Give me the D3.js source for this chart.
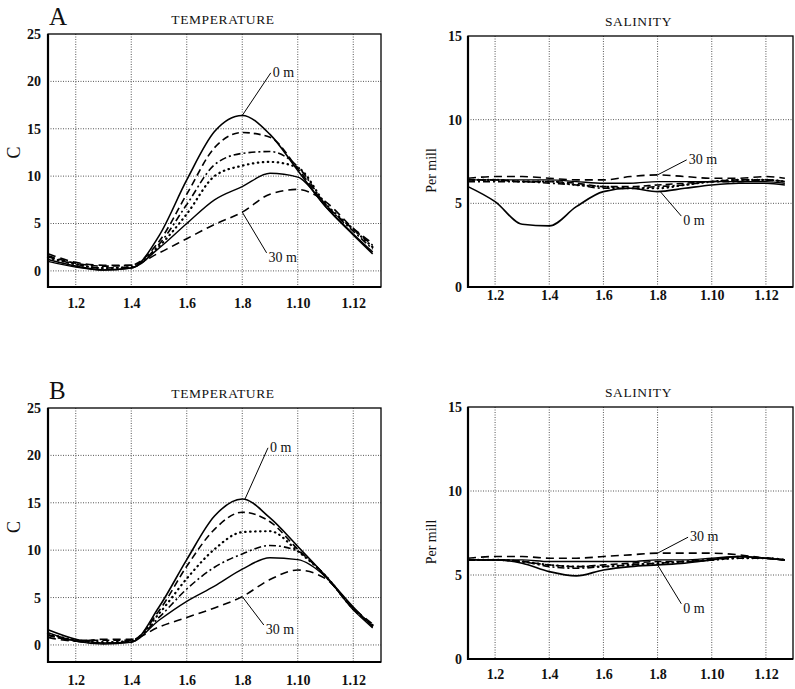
<!DOCTYPE html>
<html>
<head>
<meta charset="utf-8">
<script src="https://cdn.jsdelivr.net/npm/d3@7"></script>
<style>
  html, body { margin: 0; padding: 0; background: #fff; }
  svg { display: block; }
  text { font-family: 'Liberation Serif', 'DejaVu Serif', serif; fill: #111; }
</style>
</head>
<body>
<div id="chart"></div>
<script>
// 관측 정점 (1.1 ... 1.12) — x 값은 정점 번호
var stations = [1, 2, 3, 4, 5, 6, 7, 8, 9, 10, 11, 12, 12.7];
var xTicks = [2, 4, 6, 8, 10, 12];
var tempTicks = [0, 5, 10, 15, 20, 25];
var salTicks = [0, 5, 10, 15];

// A — 수온 (0 m ... 30 m)
var tempA_0m  = [1.2, 0.5, 0.1, 0.3, 3.7, 9.6, 14.7, 16.4, 14.4, 10.6, 6.8, 3.8, 1.8];
var tempA_d2  = [1.6, 0.8, 0.5, 0.6, 3.1, 8.1, 13.0, 14.6, 14.1, 10.8, 7.0, 4.4, 2.7];
var tempA_d3  = [1.5, 0.7, 0.3, 0.4, 2.8, 7.0, 11.2, 12.4, 12.6, 11.0, 7.0, 4.2, 2.3];
var tempA_d4  = [1.4, 0.7, 0.3, 0.4, 2.6, 6.0, 10.0, 11.1, 11.5, 10.9, 7.1, 4.4, 2.5];
var tempA_d5  = [1.0, 0.4, 0.1, 0.3, 2.4, 5.0, 7.5, 8.9, 10.3, 9.9, 6.8, 3.9, 2.0];
var tempA_30m = [1.8, 0.9, 0.6, 0.6, 1.9, 3.4, 4.9, 6.2, 8.1, 8.6, 7.3, 4.5, 2.9];

// A — 염분
var salA_0m  = [6.0, 5.1, 3.75, 3.65, 4.8, 5.7, 5.9, 5.7, 5.9, 6.1, 6.2, 6.2, 6.1];
var salA_d2  = [6.4, 6.4, 6.3, 6.3, 6.2, 6.0, 6.0, 6.1, 6.2, 6.3, 6.4, 6.4, 6.3];
var salA_d3  = [6.3, 6.3, 6.3, 6.2, 6.1, 5.9, 5.9, 6.0, 6.1, 6.3, 6.3, 6.4, 6.3];
var salA_d4  = [6.4, 6.4, 6.3, 6.3, 6.1, 6.0, 5.9, 5.9, 6.1, 6.3, 6.4, 6.4, 6.3];
var salA_d5  = [6.4, 6.4, 6.4, 6.4, 6.3, 6.2, 6.2, 6.3, 6.3, 6.3, 6.3, 6.3, 6.2];
var salA_30m = [6.5, 6.6, 6.6, 6.5, 6.4, 6.4, 6.6, 6.7, 6.6, 6.5, 6.5, 6.6, 6.5];

// B — 수온
var tempB_0m  = [1.6, 0.6, 0.2, 0.3, 4.0, 9.0, 13.6, 15.4, 13.4, 10.4, 7.3, 4.0, 1.9];
var tempB_d2  = [1.1, 0.5, 0.5, 0.5, 3.6, 8.3, 12.2, 14.0, 13.0, 10.1, 7.3, 3.8, 2.0];
var tempB_d3  = [1.0, 0.4, 0.2, 0.4, 2.9, 5.9, 8.2, 9.6, 10.5, 9.9, 7.2, 3.9, 2.0];
var tempB_d4  = [1.2, 0.5, 0.3, 0.4, 3.3, 7.0, 10.1, 11.9, 12.0, 9.9, 7.3, 3.8, 2.1];
var tempB_d5  = [1.3, 0.4, 0.1, 0.3, 2.6, 4.6, 6.2, 8.0, 9.2, 9.0, 7.2, 3.7, 1.8];
var tempB_30m = [0.8, 0.4, 0.6, 0.6, 1.9, 2.9, 3.9, 5.1, 6.9, 7.9, 7.0, 3.9, 2.2];

// B — 염분
var salB_0m  = [5.9, 5.9, 5.7, 5.2, 4.95, 5.3, 5.5, 5.6, 5.7, 5.9, 6.1, 6.0, 5.9];
var salB_d2  = [5.9, 5.9, 5.8, 5.6, 5.5, 5.6, 5.7, 5.8, 5.8, 5.9, 6.1, 6.0, 5.9];
var salB_d3  = [5.9, 5.9, 5.8, 5.5, 5.4, 5.5, 5.6, 5.7, 5.8, 5.9, 6.0, 6.0, 5.9];
var salB_d4  = [5.9, 5.9, 5.8, 5.6, 5.5, 5.5, 5.6, 5.7, 5.8, 5.9, 6.0, 6.0, 5.9];
var salB_d5  = [5.9, 5.9, 5.9, 5.8, 5.8, 5.8, 5.8, 5.9, 5.9, 6.0, 6.1, 6.0, 5.9];
var salB_30m = [6.0, 6.1, 6.1, 6.0, 6.0, 6.1, 6.2, 6.3, 6.3, 6.3, 6.2, 6.0, 5.9];

// 깊이별 선 스타일 (0 m → 30 m 순서)
var lineStyles = [
  { dash: null,        width: 1.6, cap: 'butt' },
  { dash: '7,4',       width: 1.6, cap: 'butt' },
  { dash: '7,3,2,3',   width: 1.6, cap: 'butt' },
  { dash: '0.5,4.5',   width: 2.2, cap: 'round' },
  { dash: null,        width: 1.4, cap: 'butt' },
  { dash: '8,5',       width: 1.6, cap: 'butt' }
];

// 패널 배치 (xPad = x 눈금 라벨 간격)
var panels = [
  { title: 'TEMPERATURE', ylabel: 'C', letter: 'A', x0: 48, x1: 381, y0: 34, y1: 287, ymin: -1.7, ymax: 25, xPad: 11,
    ticks: tempTicks, series: [tempA_0m, tempA_d2, tempA_d3, tempA_d4, tempA_d5, tempA_30m],
    notes: [{ text: '0 m', x: 8, v: 16.4, lx: 9.1, lv: 20.9 }, { text: '30 m', x: 8, v: 6.2, lx: 8.95, lv: 0.95 }] },
  { title: 'SALINITY', ylabel: 'Per mill', x0: 468, x1: 793, y0: 36, y1: 287, ymin: 0, ymax: 15, xPad: 3,
    ticks: salTicks, series: [salA_0m, salA_d2, salA_d3, salA_d4, salA_d5, salA_30m],
    notes: [{ text: '30 m', x: 8, v: 6.7, lx: 9.15, lv: 7.6 }, { text: '0 m', x: 8.1, v: 5.7, lx: 8.95, lv: 3.7 }] },
  { title: 'TEMPERATURE', ylabel: 'C', letter: 'B', x0: 48, x1: 381, y0: 408, y1: 662, ymin: -1.8, ymax: 25, xPad: 13,
    ticks: tempTicks, series: [tempB_0m, tempB_d2, tempB_d3, tempB_d4, tempB_d5, tempB_30m],
    notes: [{ text: '0 m', x: 8.1, v: 15.4, lx: 9.0, lv: 20.8 }, { text: '30 m', x: 8, v: 5.1, lx: 8.85, lv: 1.15 }] },
  { title: 'SALINITY', ylabel: 'Per mill', x0: 468, x1: 793, y0: 407, y1: 659, ymin: 0, ymax: 15, xPad: 10,
    ticks: salTicks, series: [salB_0m, salB_d2, salB_d3, salB_d4, salB_d5, salB_30m],
    notes: [{ text: '30 m', x: 8, v: 6.3, lx: 9.2, lv: 7.25 }, { text: '0 m', x: 8, v: 5.6, lx: 8.95, lv: 2.75 }] }
];

var svg = d3.select('#chart').append('svg')
  .attr('width', 795)
  .attr('height', 689);

panels.forEach(function (p) {
  var isSal = p.title === 'SALINITY';
  var x = d3.scaleLinear().domain([1, 13]).range([p.x0, p.x1]);
  var y = d3.scaleLinear().domain([p.ymin, p.ymax]).range([p.y1, p.y0]);
  var g = svg.append('g');

  // 격자 (점선)
  g.append('g').selectAll('line').data(xTicks).join('line')
    .attr('x1', function (d) { return x(d); }).attr('x2', function (d) { return x(d); })
    .attr('y1', p.y0).attr('y2', p.y1)
    .attr('stroke', '#444').attr('stroke-width', 0.9).attr('stroke-dasharray', '1,1.5');
  g.append('g').selectAll('line').data(p.ticks.filter(function (t) { return t > p.ymin && t < p.ymax; })).join('line')
    .attr('x1', p.x0).attr('x2', p.x1)
    .attr('y1', function (d) { return y(d); }).attr('y2', function (d) { return y(d); })
    .attr('stroke', '#444').attr('stroke-width', 0.9).attr('stroke-dasharray', '1,1.5');

  // 곡선
  var line = d3.line()
    .x(function (d, i) { return x(stations[i]); })
    .y(function (d) { return y(d); })
    .curve(d3.curveMonotoneX);
  g.append('g').selectAll('path').data(p.series).join('path')
    .attr('d', function (d) { return line(d); })
    .attr('fill', 'none')
    .attr('stroke', '#000')
    .attr('stroke-width', function (d, i) { return lineStyles[i].width; })
    .attr('stroke-linecap', function (d, i) { return lineStyles[i].cap; })
    .attr('stroke-dasharray', function (d, i) { return lineStyles[i].dash; });

  // 테두리
  g.append('rect')
    .attr('x', p.x0).attr('y', p.y0)
    .attr('width', p.x1 - p.x0).attr('height', p.y1 - p.y0)
    .attr('fill', 'none').attr('stroke', '#000').attr('stroke-width', 1.3);
  g.append('path')
    .attr('d', 'M' + p.x0 + ',' + p.y0 + 'V' + p.y1 + 'H' + p.x1)
    .attr('fill', 'none').attr('stroke', '#000').attr('stroke-width', 2.2);

  // 축 눈금 라벨
  var xAxis = d3.axisBottom(x).tickValues(xTicks).tickSize(0).tickPadding(p.xPad)
    .tickFormat(function (d) { return '1.' + d; });
  var xa = g.append('g').attr('transform', 'translate(0,' + p.y1 + ')').call(xAxis);
  xa.select('.domain').remove();
  xa.selectAll('text').attr('font-size', 14).attr('font-weight', 'bold')
    .attr('font-family', "'Liberation Serif', serif").attr('fill', '#111');

  var yAxis = d3.axisLeft(y).tickValues(p.ticks).tickSize(0).tickPadding(isSal ? 6 : 7);
  var ya = g.append('g').attr('transform', 'translate(' + p.x0 + ',0)').call(yAxis);
  ya.select('.domain').remove();
  ya.selectAll('text').attr('font-size', 14).attr('font-weight', 'bold')
    .attr('font-family', "'Liberation Serif', serif").attr('fill', '#111');

  // 제목
  g.append('text')
    .attr('x', isSal ? (p.x0 + p.x1) / 2 + 8 : 223)
    .attr('y', p.y0 - 10)
    .attr('text-anchor', 'middle')
    .attr('font-size', 13.5)
    .attr('letter-spacing', 0.6)
    .text(p.title);

  if (p.letter) {
    g.append('text')
      .attr('x', 49).attr('y', p.y0 - 9)
      .attr('font-size', 25)
      .text(p.letter);
  }

  // 세로 축 제목
  var ylx = isSal ? p.x0 - 32 : 20;
  var yly = isSal ? (p.y0 + p.y1) / 2 + 9 : (p.y0 + p.y1) / 2 - 8;
  g.append('text')
    .attr('transform', 'translate(' + ylx + ',' + yly + ') rotate(-90)')
    .attr('text-anchor', 'middle')
    .attr('font-size', isSal ? 14 : 18)
    .text(p.ylabel);

  // 0 m / 30 m 지시선
  p.notes.forEach(function (n) {
    var lx = x(n.lx), ly = y(n.lv);
    g.append('line')
      .attr('x1', x(n.x)).attr('y1', y(n.v))
      .attr('x2', lx - 2).attr('y2', ly + (n.lv > n.v ? 0 : -9))
      .attr('stroke', '#000').attr('stroke-width', 1);
    g.append('text')
      .attr('x', lx).attr('y', ly + (n.lv > n.v ? 4 : 0))
      .attr('font-size', 14)
      .text(n.text);
  });
});
</script>
</body>
</html>
